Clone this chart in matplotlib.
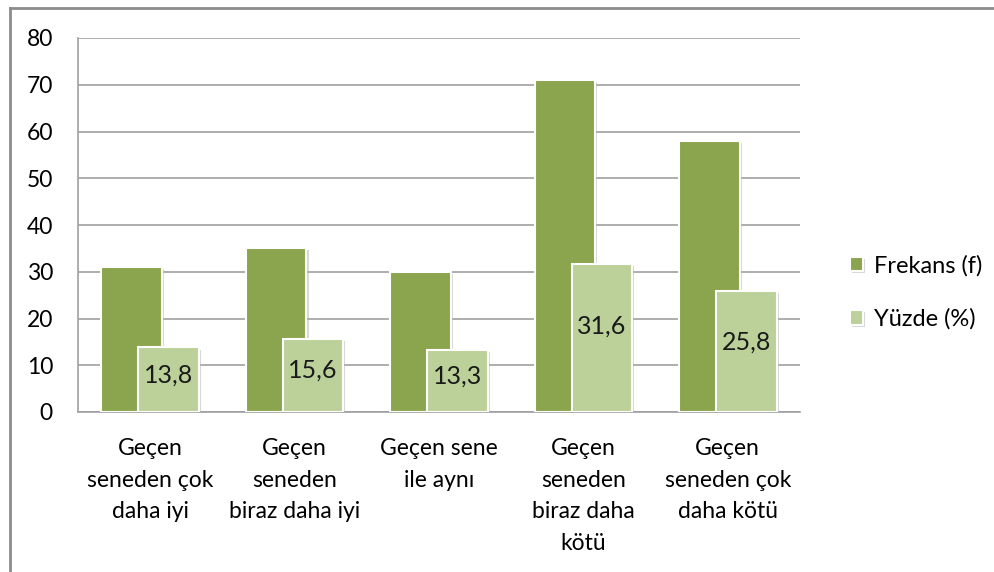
import numpy as np
import matplotlib.pyplot as plt
import matplotlib.patheffects as pe
from matplotlib.lines import Line2D

plt.rcParams['font.family'] = ['Lato', 'DejaVu Sans']

categories = ["Geçen\nseneden çok\ndaha iyi", "Geçen\nseneden\nbiraz daha iyi",
              "Geçen sene\nile aynı", "Geçen\nseneden\nbiraz daha\nkötü",
              "Geçen\nseneden çok\ndaha kötü"]
frekans = [31, 35, 30, 71, 58]
yuzde = [13.8, 15.6, 13.3, 31.6, 25.8]
yuzde_labels = ["13,8", "15,6", "13,3", "31,6", "25,8"]

dark = '#8AA54D'
light = '#BCD19A'

fig = plt.figure(figsize=(9.94, 5.72), dpi=100)
ax = fig.add_axes([78/994, 1-412/572, (800-78)/994, (412-38)/572])

x = np.arange(len(categories))
w = 0.42
shadow = [pe.SimplePatchShadow(offset=(1.5, -1.5), shadow_rgbFace='#b0b0b0', alpha=0.5), pe.Normal()]
b1 = ax.bar(x - 0.128, frekans, w, color=dark, edgecolor='white', linewidth=1.5,
            label='Frekans (f)', zorder=3, path_effects=shadow)
b2 = ax.bar(x + 0.128, yuzde, w, color=light, edgecolor='white', linewidth=1.5,
            label='Yüzde (%)', zorder=4, path_effects=shadow)

for xi, v, s in zip(x, yuzde, yuzde_labels):
    ax.text(xi + 0.128, v * 0.58, s, ha='center', va='center', fontsize=18,
            color='#1a1a1a', zorder=5)

ax.set_xlim(-0.5, len(categories) - 0.5)
ax.set_ylim(0, 80)
ax.set_yticks(range(0, 81, 10))
ax.tick_params(axis='y', length=0, labelsize=16.5, pad=18)
ax.tick_params(axis='x', length=0, labelsize=16.5, pad=19)
ax.set_xticks(x)
ax.set_xticklabels(categories, linespacing=1.62, va='top')
ax.yaxis.grid(True, color='#a0a0a0', lw=1.2, zorder=0)
for s in ['top', 'right']:
    ax.spines[s].set_visible(False)
for s in ['left', 'bottom']:
    ax.spines[s].set_color('#a0a0a0')
    ax.spines[s].set_linewidth(1.2)

ax.legend(loc='center left', bbox_to_anchor=(1.04, 0.32), frameon=False, fontsize=17,
          handlelength=0.55, handleheight=0.55, handletextpad=0.45, labelspacing=1.35)

# outer chart border (only left and top visible)
fig.add_artist(Line2D([10/994, 10/994], [0, 1-8/572], color='#8c8c8c', lw=2))
fig.add_artist(Line2D([10/994, 1], [1-8/572, 1-8/572], color='#8c8c8c', lw=2))

plt.savefig('out.png', dpi=100)
